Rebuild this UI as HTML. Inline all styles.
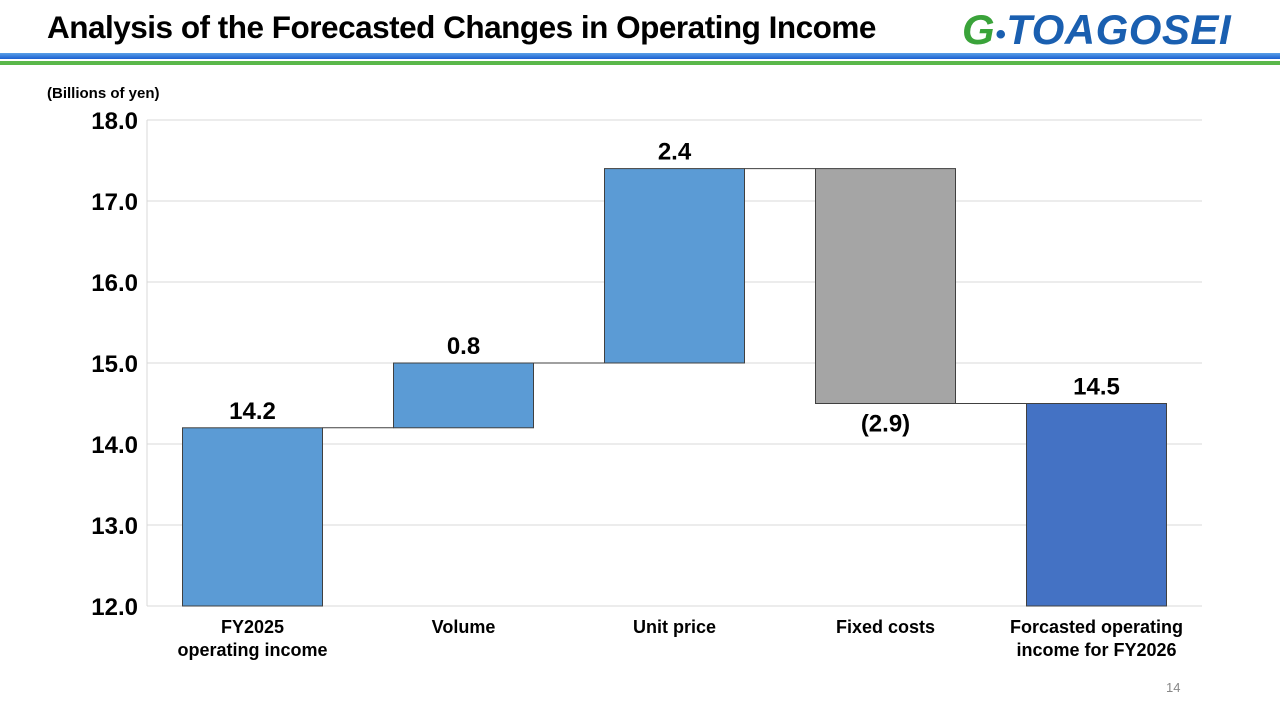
<!DOCTYPE html>
<html><head><meta charset="utf-8"><style>
body{margin:0;width:1280px;height:720px;background:#fff;font-family:"Liberation Sans",Arial,sans-serif;overflow:hidden;position:relative}
.title{position:absolute;left:47px;top:9px;font-size:31.5px;font-weight:bold;color:#000;letter-spacing:-0.5px}
.logo{position:absolute;left:962px;top:6px;font-size:42px;font-style:italic;font-weight:bold;color:#1a5fb0;letter-spacing:0.5px}
.logo .g{color:#3aa33a}
.bar1{position:absolute;left:0;top:53px;width:1280px;height:6px;background:linear-gradient(#5aa0e8,#1a5fd0)}
.bar2{position:absolute;left:0;top:61px;width:1280px;height:4px;background:#5ab84a}
.unit{position:absolute;left:47px;top:85px;font-size:15px;font-weight:bold}
.pg{position:absolute;left:1166px;top:680px;font-size:13px;color:#888}
svg{position:absolute;left:0;top:0}
</style></head><body>
<div class="title">Analysis of the Forecasted Changes in Operating Income</div>
<div class="logo"><span class="g">G</span><span style="font-size:30px;color:#1a5fb0">•</span>TOAGOSEI</div>
<div class="bar1"></div>
<div class="bar2"></div>
<div class="unit">(Billions of yen)</div>
<div class="pg">14</div>
<svg id="chart" width="1280" height="720"></svg>
<script>
const categories=[["FY2025","operating income"],["Volume"],["Unit price"],["Fixed costs"],["Forcasted operating","income for FY2026"]];
const values=[14.2,0.8,2.4,-2.9,14.5];
const labels=["14.2","0.8","2.4","(2.9)","14.5"];
const kinds=["total","delta","delta","delta","total"];
const ticks=[12,13,14,15,16,17,18];
const X0=147,X1=1202,Y0=606,Y1=120,MIN=12,MAX=18;
const y=v=>Y0-(v-MIN)/(MAX-MIN)*(Y0-Y1);
const step=(X1-X0)/categories.length;
const xc=i=>X0+step*(i+0.5);
const BW=140;
const svg=document.getElementById('chart');
const NS='http://www.w3.org/2000/svg';
function mk(t,a){const e=document.createElementNS(NS,t);for(const k in a)e.setAttribute(k,a[k]);svg.appendChild(e);return e;}
ticks.forEach(t=>{
  const l=mk('line',{x1:X0,x2:X1,y1:y(t),y2:y(t),stroke:'#d9d9d9','stroke-width':1});
  
  
  const tx=mk('text',{x:X0-9,y:y(t)+9,'text-anchor':'end','font-size':24,'font-weight':'bold'});
  tx.textContent=t.toFixed(1);
  
  
});
const ax=mk('line',{x1:X0,x2:X0,y1:Y1,y2:Y0,stroke:'#d9d9d9'});


let run=0;
values.forEach((v,i)=>{
  let lo,hi,fill;
  if(kinds[i]==='total'){lo=MIN;hi=v;run=v;fill=i===0?'#5b9bd5':'#4472c4';}
  else{const s=run;run=s+v;lo=Math.min(s,run);hi=Math.max(s,run);fill=v<0?'#a5a5a5':'#5b9bd5';}
  const end=run;
  const r=mk('rect',{x:xc(i)-BW/2,y:y(hi),width:BW,height:y(lo)-y(hi),fill:fill,stroke:'#404040','stroke-width':1});
  
  
  if(i<values.length-1){
    const c=mk('line',{x1:xc(i)+BW/2,x2:xc(i+1)-BW/2,y1:y(end),y2:y(end),stroke:'#404040'});
    
    
  }
  const ly=v<0&&kinds[i]==='delta'?y(lo)+28:y(hi)-9;
  const t=mk('text',{x:xc(i),y:ly,'text-anchor':'middle','font-size':24,'font-weight':'bold'});
  t.textContent=labels[i];
  
  
  categories[i].forEach((s,j)=>{
    const c=mk('text',{x:xc(i),y:633+j*23,'text-anchor':'middle','font-size':18,'font-weight':'bold'});
    c.textContent=s;
    
    
  });
});
</script>
</body></html>
